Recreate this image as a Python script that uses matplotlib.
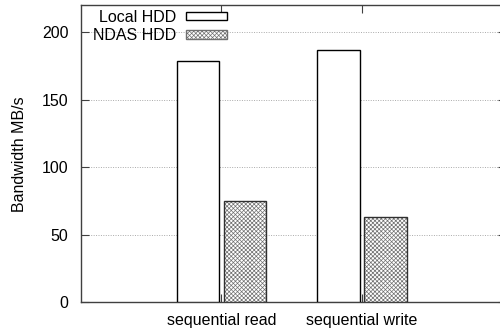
import matplotlib
matplotlib.use('Agg')
import matplotlib.pyplot as plt
import numpy as np
from matplotlib.patches import Patch

categories = ['sequential read', 'sequential write']
local_hdd = [179, 187]
ndas_hdd = [75, 63]
yticks = [0, 50, 100, 150, 200]

plt.rcParams['font.family'] = ['Liberation Sans', 'DejaVu Sans']
plt.rcParams['font.size'] = 11.5
plt.rcParams['hatch.linewidth'] = 0.5
plt.rcParams['hatch.color'] = '#707070'

fig = plt.figure(figsize=(5, 3.3), dpi=100)
ax = fig.add_axes([0.162, 0.084, 0.85, 0.9])

x = np.arange(1, len(categories) + 1)
w = 0.3
off = 0.167

ax.bar(x - off, local_hdd, w, color='white', edgecolor='black', linewidth=1.0, zorder=3)
ax.bar(x + off, ndas_hdd, w, color='white', edgecolor='#707070', hatch='xxxxxxxx', linewidth=0, zorder=3)
ax.bar(x + off, ndas_hdd, w, fill=False, edgecolor='#303030', linewidth=1.0, zorder=4)

# legend, text first like gnuplot
handles = [Patch(facecolor='white', edgecolor='black', linewidth=1.0),
           Patch(facecolor='white', edgecolor='#707070', hatch='xxxxxxxx', linewidth=1.0)]
ax.legend(handles, ['Local HDD', 'NDAS HDD'], loc='upper left', bbox_to_anchor=(-0.002, 1.028),
          frameon=False, markerfirst=False, handlelength=2.6, handleheight=0.45,
          handletextpad=0.6, labelspacing=0.22, borderpad=0.3)

ax.set_xlim(0, 3.025)
ax.set_ylim(0, 220)
ax.set_yticks(yticks)
ax.set_xticks(x)
ax.set_xticklabels(categories)
ax.set_ylabel('Bandwidth MB/s', labelpad=11)

ax.yaxis.grid(True, linestyle=(0, (1, 1.5)), color='#aaaaaa', linewidth=0.7, zorder=0)
ax.tick_params(axis='both', direction='in', length=6, width=0.8, color='#404040', top=True, right=True)
ax.tick_params(axis='y', pad=9)
ax.tick_params(axis='x', pad=8)
for s in ax.spines.values():
    s.set_color('#404040')
    s.set_linewidth(1.0)

fig.savefig('out.png', dpi=100)
